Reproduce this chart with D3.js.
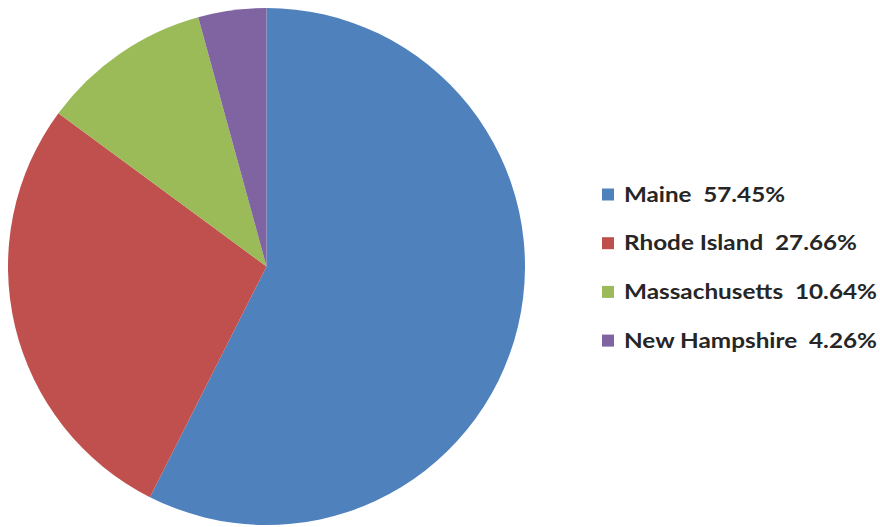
<!DOCTYPE html>
<html><head><meta charset="utf-8">
<script src="https://cdn.jsdelivr.net/npm/d3@7"></script>
<style>body{margin:0;background:#fff}svg{display:block}text{white-space:pre}</style>
</head><body>
<svg id="c" width="880" height="527"></svg>
<script>
const categories = ["Maine", "Rhode Island", "Massachusetts", "New Hampshire"];
const values = [27, 13, 5, 2];
const colors = ["#4F81BD", "#C0504D", "#9BBB59", "#8064A2"];
const labelWidths = [161, 233, 253, 253];

const svg = d3.select("#c");
const cx = 266.5, cy = 266.5, r = 258.5;
const total = d3.sum(values);
const pie = d3.pie().sort(null).value(d => d.v);
const data = categories.map((c, i) => ({c, v: values[i], col: colors[i], w: labelWidths[i]}));
const arc = d3.arc().innerRadius(0).outerRadius(r);
const g = svg.append("g").attr("transform", `translate(${cx},${cy})`);
g.selectAll("path").data(pie(data)).join("path")
  .attr("d", arc).attr("fill", d => d.data.col);

const leg = svg.append("g");
const y0 = 194.5, dy = 48.7;
data.forEach((d, i) => {
  const y = y0 + i * dy;
  leg.append("rect").attr("x", 602).attr("y", y - 6).attr("width", 12).attr("height", 12).attr("fill", d.col);
  leg.append("text").attr("x", 624).attr("y", y).attr("dy", "0.36em")
    .attr("font-family", "Lato, 'Open Sans', sans-serif").attr("font-weight", "bold")
    .attr("font-size", 20).attr("fill", "#262626")
    .attr("textLength", d.w).attr("lengthAdjust", "spacingAndGlyphs")
    .text(d.c + "  " + (d.v / total * 100).toFixed(2) + "%");
});
</script>
</body></html>
